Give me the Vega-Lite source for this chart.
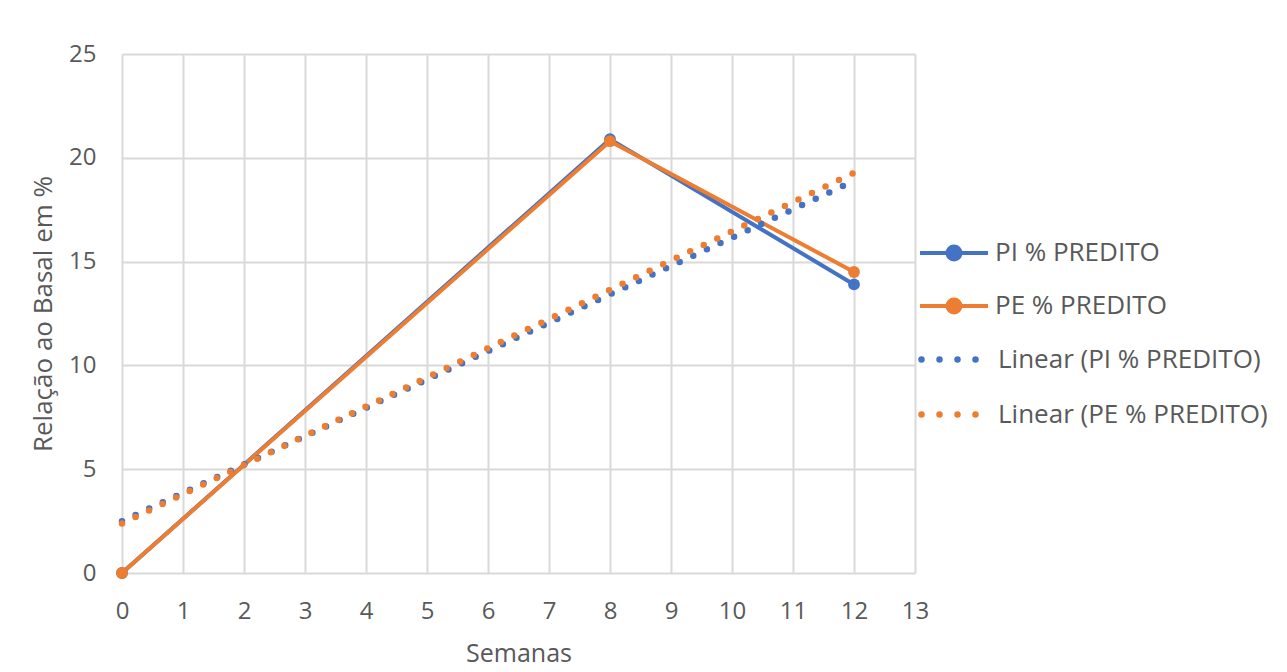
{
  "$schema": "https://vega.github.io/schema/vega-lite/v6.json",
  "width": 793,
  "height": 519,
  "autosize": {"type": "none"},
  "padding": {"left": 122, "top": 54, "right": 372, "bottom": 99},
  "background": "white",
  "config": {
    "view": {"stroke": null},
    "font": "Open Sans",
    "axis": {
      "gridColor": "#D9D9D9",
      "gridWidth": 2,
      "ticks": false,
      "labelColor": "#595959",
      "labelFontSize": 24,
      "titleColor": "#595959",
      "titleFontSize": 25,
      "titleFontWeight": "normal",
      "domain": false
    },
    "legend": {
      "labelColor": "#595959",
      "labelFontSize": 26,
      "labelLimit": 400,
      "padding": 0
    }
  },
  "data": {
    "values": [
      {"semana": 0, "serie": "PI % PREDITO", "valor": 0},
      {"semana": 8, "serie": "PI % PREDITO", "valor": 20.9},
      {"semana": 12, "serie": "PI % PREDITO", "valor": 13.9},
      {"semana": 0, "serie": "PE % PREDITO", "valor": 0},
      {"semana": 8, "serie": "PE % PREDITO", "valor": 20.8},
      {"semana": 12, "serie": "PE % PREDITO", "valor": 14.5}
    ]
  },
  "encoding": {
    "x": {
      "field": "semana",
      "type": "quantitative",
      "scale": {"domain": [0, 13], "nice": false},
      "axis": {"values": [0,1,2,3,4,5,6,7,8,9,10,11,12,13], "title": "Semanas", "labelFlush": false, "labelPadding": 26, "titlePadding": 18}
    },
    "y": {
      "field": "valor",
      "type": "quantitative",
      "scale": {"domain": [0, 25], "nice": false},
      "axis": {"values": [0,5,10,15,20,25], "title": "Relação ao Basal em %", "titleFontSize": 26, "labelFlush": false, "labelPadding": 26, "titlePadding": 12}
    }
  },
  "layer": [
    {
      "layer": [
        {
          "mark": {"type": "line", "strokeWidth": 4},
          "encoding": {
            "color": {
              "field": "serie",
              "type": "nominal",
              "scale": {"domain": ["PI % PREDITO", "PE % PREDITO"], "range": ["#4472C4", "#ED7D31"]},
              "legend": {
                "title": null,
                "orient": "none",
                "legendX": 796,
                "legendY": 163,
                "symbolType": "M-1,0L1,0M-0.05,0a0.05,0.05 0 1,0 0.1,0a0.05,0.05 0 1,0 -0.1,0M-0.12,0a0.12,0.12 0 1,0 0.24,0a0.12,0.12 0 1,0 -0.24,0M-0.19,0a0.19,0.19 0 1,0 0.38,0a0.19,0.19 0 1,0 -0.38,0",
                "symbolSize": 4624,
                "symbolStrokeWidth": 4,
                "labelOffset": 5,
                "rowPadding": 2
              }
            }
          }
        },
        {
          "mark": {"type": "point", "filled": true, "size": 140, "opacity": 1},
          "encoding": {
            "color": {
              "field": "serie",
              "type": "nominal",
              "scale": {"domain": ["PI % PREDITO", "PE % PREDITO"], "range": ["#4472C4", "#ED7D31"]},
              "legend": {
                "title": null,
                "orient": "none",
                "legendX": 796,
                "legendY": 163,
                "symbolType": "M-1,0L1,0M-0.05,0a0.05,0.05 0 1,0 0.1,0a0.05,0.05 0 1,0 -0.1,0M-0.12,0a0.12,0.12 0 1,0 0.24,0a0.12,0.12 0 1,0 -0.24,0M-0.19,0a0.19,0.19 0 1,0 0.38,0a0.19,0.19 0 1,0 -0.38,0",
                "symbolSize": 4624,
                "symbolStrokeWidth": 4,
                "labelOffset": 5,
                "rowPadding": 2
              }
            }
          }
        }
      ]
    },
    {
      "transform": [
        {"regression": "valor", "on": "semana", "groupby": ["serie"], "extent": [0, 12]}
      ],
      "mark": {"type": "line", "strokeWidth": 6.5, "strokeDash": [0, 15], "strokeCap": "round"},
      "encoding": {
        "color": {
          "field": "serie",
          "type": "nominal",
          "scale": {"domain": ["PI % PREDITO", "PE % PREDITO"], "range": ["#4472C4", "#ED7D31"]},
          "legend": {
            "title": null,
            "orient": "none",
            "legendX": 796,
            "legendY": 268,
            "labelExpr": "'Linear (' + datum.label + ')'",
            "symbolType": "stroke",
            "symbolSize": 4624,
            "labelOffset": 5,
            "rowPadding": 4,
            "encode": {
              "symbols": {
                "update": {
                  "strokeWidth": {"value": 6.5},
                  "strokeDash": {"value": [0, 18]},
                  "strokeCap": {"value": "round"}
                }
              }
            }
          }
        }
      }
    }
  ],
  "resolve": {"scale": {"color": "independent"}, "legend": {"color": "independent"}}
}
